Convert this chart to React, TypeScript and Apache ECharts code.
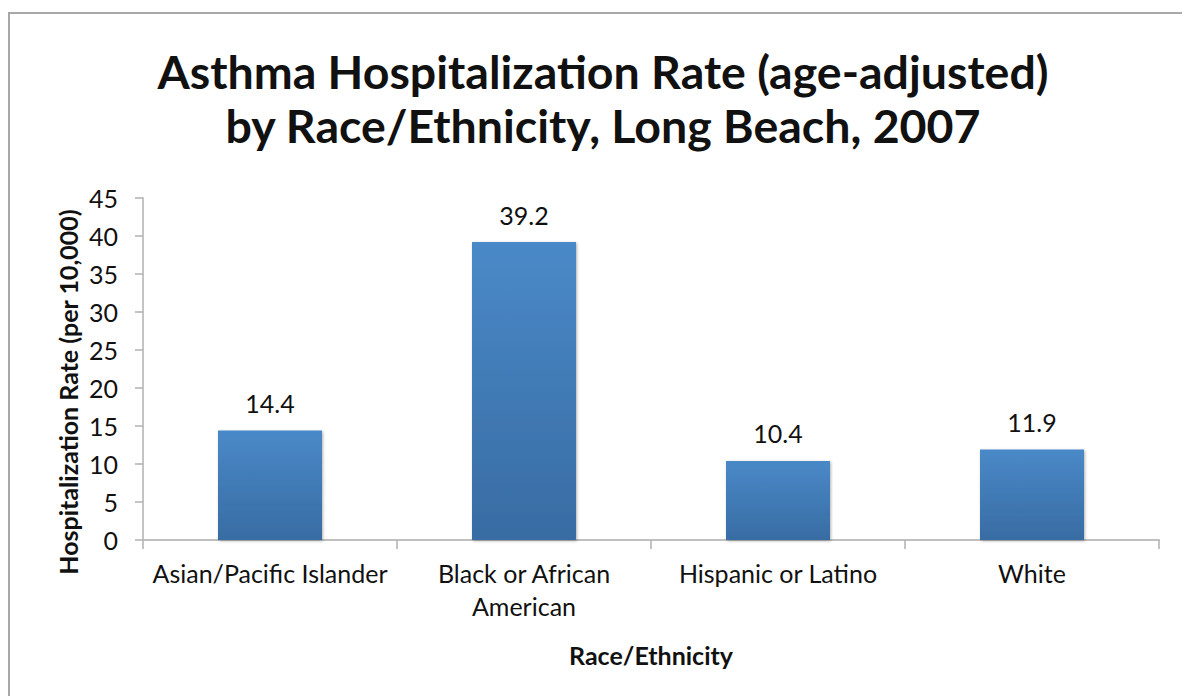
import React, { useEffect, useRef } from "react";
import * as echarts from "echarts";

const categories = [
  "Asian/Pacific Islander",
  "Black or African\nAmerican",
  "Hispanic or Latino",
  "White",
];
const rates = [14.4, 39.2, 10.4, 11.9];
const titleLines = [
  "Asthma Hospitalization Rate (age-adjusted)",
  "by Race/Ethnicity, Long Beach, 2007",
];
const yAxisName = "Hospitalization Rate (per 10,000)";
const xAxisName = "Race/Ethnicity";

const FONT = "Lato";

export default function App() {
  const ref = useRef<HTMLDivElement>(null);
  useEffect(() => {
    if (!ref.current) return;
    const chart = echarts.init(ref.current, null, { renderer: "svg" });
    chart.setOption({
      animation: false,
      backgroundColor: "#ffffff",
      textStyle: { fontFamily: FONT },
      graphic: [
        {
          type: "rect",
          shape: { x: 9, y: 13, width: 1300, height: 800 },
          style: { fill: "none", stroke: "#a8a8a8", lineWidth: 2 },
          silent: true,
        },
        ...titleLines.map((t, i) => ({
          type: "text",
          x: 603,
          y: 71 + i * 54,
          style: {
            text: t,
            fontFamily: FONT,
            fontWeight: "bold",
            fontSize: 46.5,
            fill: "#111",
            align: "center",
            verticalAlign: "middle",
          },
        })),
        {
          type: "text",
          x: 68,
          y: 392,
          rotation: Math.PI / 2,
          style: {
            text: yAxisName,
            fontFamily: FONT,
            fontWeight: "bold",
            fontSize: 25,
            fill: "#111",
            align: "center",
            verticalAlign: "middle",
          },
        },
      ],
      grid: { left: 143, right: 23, top: 198, bottom: 156, containLabel: false },
      xAxis: {
        type: "category",
        data: categories,
        name: xAxisName,
        nameLocation: "middle",
        nameGap: 102,
        nameTextStyle: { fontFamily: FONT, fontWeight: "bold", fontSize: 25, color: "#111" },
        axisLine: { show: true, lineStyle: { color: "#c0c0c0", width: 2 } },
        axisTick: { show: true, length: 9, alignWithLabel: false, lineStyle: { color: "#b0b0b0", width: 1.5 } },
        axisLabel: {
          fontFamily: FONT,
          fontSize: 25,
          color: "#111",
          margin: 16,
          lineHeight: 33,
          interval: 0,
        },
      },
      yAxis: {
        type: "value",
        min: 0,
        max: 45,
        interval: 5,
        axisLine: { show: true, lineStyle: { color: "#b0b0b0", width: 1.5 } },
        axisTick: { show: true, length: 8, lineStyle: { color: "#b0b0b0", width: 1.5 } },
        splitLine: { show: false },
        axisLabel: { fontFamily: FONT, fontSize: 25, color: "#111", margin: 25 },
      },
      series: [
        {
          type: "bar",
          data: rates,
          barWidth: 104,
          itemStyle: {
            color: new echarts.graphic.LinearGradient(0, 0, 0, 1, [
              { offset: 0, color: "#4a89c8" },
              { offset: 1, color: "#386ca3" },
            ]),
            shadowBlur: 3,
            shadowColor: "rgba(0,0,0,0.3)",
            shadowOffsetX: 1,
            shadowOffsetY: 1,
          },
          label: {
            show: true,
            position: "top",
            distance: 15,
            fontFamily: FONT,
            fontSize: 25,
            color: "#111",
            formatter: (p: any) => p.value.toFixed(1),
          },
        },
      ],
    });
    return () => chart.dispose();
  }, []);
  return (
    <div
      ref={ref}
      style={{ position: "fixed", left: 0, top: 0, width: 1182, height: 696 }}
    />
  );
}
